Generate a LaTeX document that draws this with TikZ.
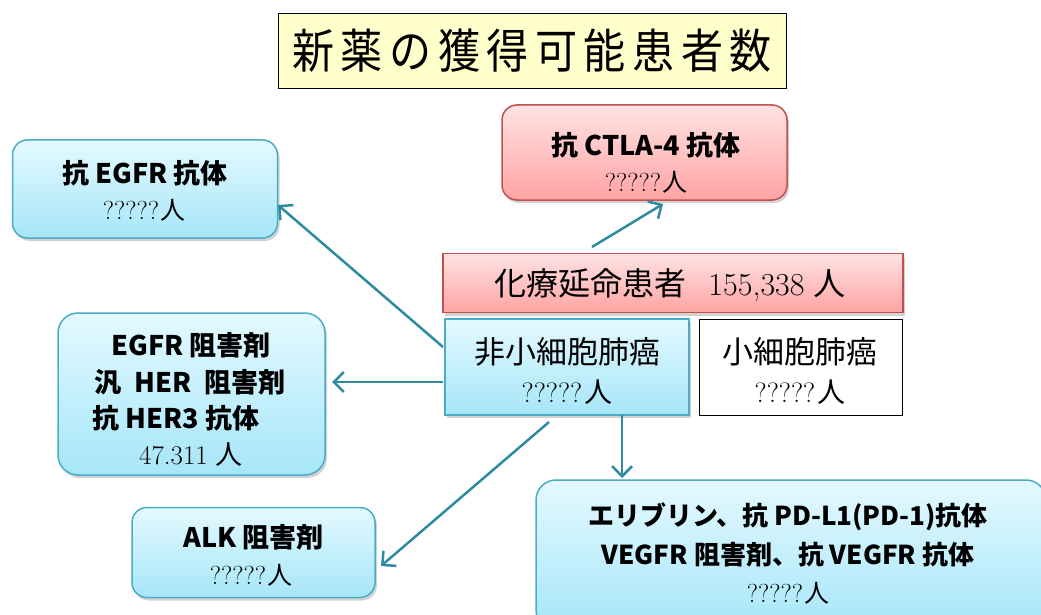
\documentclass[tikz,border=0pt]{standalone}
\usepackage{fontspec}
\usepackage{graphicx}
\usetikzlibrary{arrows.meta,shadows,calc}
\newfontfamily\jp{Noto Sans CJK JP}
\definecolor{titlefill}{HTML}{FFFFCC}
\definecolor{cyantop}{HTML}{E4F9FF}
\definecolor{cyanbot}{HTML}{A6E6F9}
\definecolor{cyanline}{HTML}{4BACC6}
\definecolor{redtop}{HTML}{FFE3E3}
\definecolor{redbot}{HTML}{FFA3A3}
\definecolor{redline}{HTML}{C0504D}
\definecolor{arrowcol}{HTML}{2E8BA0}
\tikzset{
  cyanbox/.style={draw=cyanline, line width=1.5pt, top color=cyantop, bottom color=cyanbot,
    inner sep=0pt,
    drop shadow={opacity=0.35, shadow xshift=2pt, shadow yshift=-3pt}},
  redbox/.style={draw=redline, line width=1.5pt, top color=redtop, bottom color=redbot,
    inner sep=0pt,
    drop shadow={opacity=0.35, shadow xshift=2pt, shadow yshift=-3pt}},
  txt/.style={inner sep=0pt, align=center},
  conn/.style={draw=arrowcol, line width=2.5pt,
    -{Straight Barb[length=10pt,width=20pt,line width=2.5pt]}},
}
\newcommand{\bl}[1]{{\jp\bfseries\fontsize{27pt}{27pt}\selectfont #1}}
\newcommand{\ppl}{{\fontsize{26pt}{26pt}\selectfont ?????\hspace{1pt}{\jp\fontsize{25pt}{25pt}\selectfont 人}}}
\newcommand{\tsp}{\hspace{7.3pt}}
\begin{document}
\begin{tikzpicture}[x=1pt,y=-1pt]
\useasboundingbox (0,0) rectangle (1041,615);
\fill[white] (0,0) rectangle (1041,615);
\clip (0,0) rectangle (1041,615);

% title
\node[draw=black, line width=1pt, fill=titlefill, minimum width=508pt, minimum height=75pt, inner sep=0pt]
  (title) at (532,51) {\scalebox{0.895}[1]{\jp\fontsize{47pt}{47pt}\selectfont 新\tsp 薬\tsp の\tsp 獲\tsp 得\tsp 可\tsp 能\tsp 患\tsp 者\tsp 数}};

% boxes
\node[cyanbox, rounded corners=15pt, minimum width=265pt, minimum height=98pt] (egfrab) at (145,189) {};
\node[redbox, rounded corners=15pt, minimum width=285pt, minimum height=95pt] (ctla) at (644.5,152.5) {};
\node[redbox, minimum width=460pt, minimum height=59pt] (chemo) at (673,283) {};
\node[cyanbox, minimum width=244pt, minimum height=96pt] (nsclc) at (567,367) {};
\node[draw=black, line width=1pt, fill=white, minimum width=203pt, minimum height=96pt, inner sep=0pt] (sclc) at (800.5,367) {};
\node[cyanbox, rounded corners=20pt, minimum width=267pt, minimum height=162pt] (egfrinh) at (191.5,394) {};
\node[cyanbox, rounded corners=15pt, minimum width=243pt, minimum height=90pt] (alk) at (253.5,552.5) {};
\node[cyanbox, rounded corners=20pt, minimum width=510pt, minimum height=150pt] (other) at (791,555) {};

% texts
\node[txt] (egfrab1) at (145,173) {\bl{抗 EGFR 抗体}};
\node[txt] (egfrab2) at (144,210) {\ppl};
\node[txt] (ctla1) at (646,145) {\bl{抗 CTLA-4 抗体}};
\node[txt] (ctla2) at (646,182) {\ppl};
\node[txt] (chemo1) at (670,285) {\fontsize{32pt}{32pt}\selectfont{\jp 化療延命患者}\hspace{22pt}155,338{\jp\hspace{9pt}人}};
\node[txt] (nsclc1) at (567,352) {\jp\fontsize{31pt}{31pt}\selectfont 非小細胞肺癌};
\node[txt] (nsclc2) at (567,392) {\fontsize{28pt}{28pt}\selectfont ?????\hspace{2pt}{\jp 人}};
\node[txt] (sclc1) at (800,352) {\jp\fontsize{31pt}{31pt}\selectfont 小細胞肺癌};
\node[txt] (sclc2) at (800,392) {\fontsize{28pt}{28pt}\selectfont ?????\hspace{2pt}{\jp 人}};
\node[txt] (egfrinh1) at (191,345) {\bl{EGFR 阻害剤}};
\node[txt] (egfrinh2) at (190,382) {\bl{汎\hspace{13pt}HER\hspace{13pt}阻害剤}};
\node[txt] (egfrinh3) at (176,418) {\bl{抗 HER3 抗体}};
\node[txt] (egfrinh4) at (191,455) {\fontsize{27pt}{27pt}\selectfont 47.311{\jp\hspace{8pt}人}};
\node[txt] (alk1) at (253.5,537) {\bl{ALK 阻害剤}};
\node[txt] (alk2) at (251,575) {\ppl};
\node[txt] (other1) at (788,517) {{\jp\bfseries\fontsize{26pt}{26pt}\selectfont エリブリン、抗 PD-L1(PD-1)抗体}};
\node[txt] (other2) at (788,555) {{\jp\bfseries\fontsize{26pt}{26pt}\selectfont VEGFR 阻害剤、抗 VEGFR 抗体}};
\node[txt] (other3) at (788,593) {\ppl};

% connectors
\coordinate (s1) at (443,347);
\coordinate (e1) at (278,205);
\coordinate (s2) at (443,382);
\coordinate (e2) at (332,382);
\coordinate (s3) at (549,422);
\coordinate (e3) at (381,566);
\coordinate (s4) at (622,415);
\coordinate (e4) at (622,478);
\coordinate (s5) at (592,247);
\coordinate (e5) at (663,204);
\draw[conn] (s1) -- (e1);
\draw[conn] (s2) -- (e2);
\draw[conn] (s3) -- (e3);
\draw[conn] (s4) -- (e4);
\draw[conn] (s5) -- (e5);
\end{tikzpicture}
\end{document}
